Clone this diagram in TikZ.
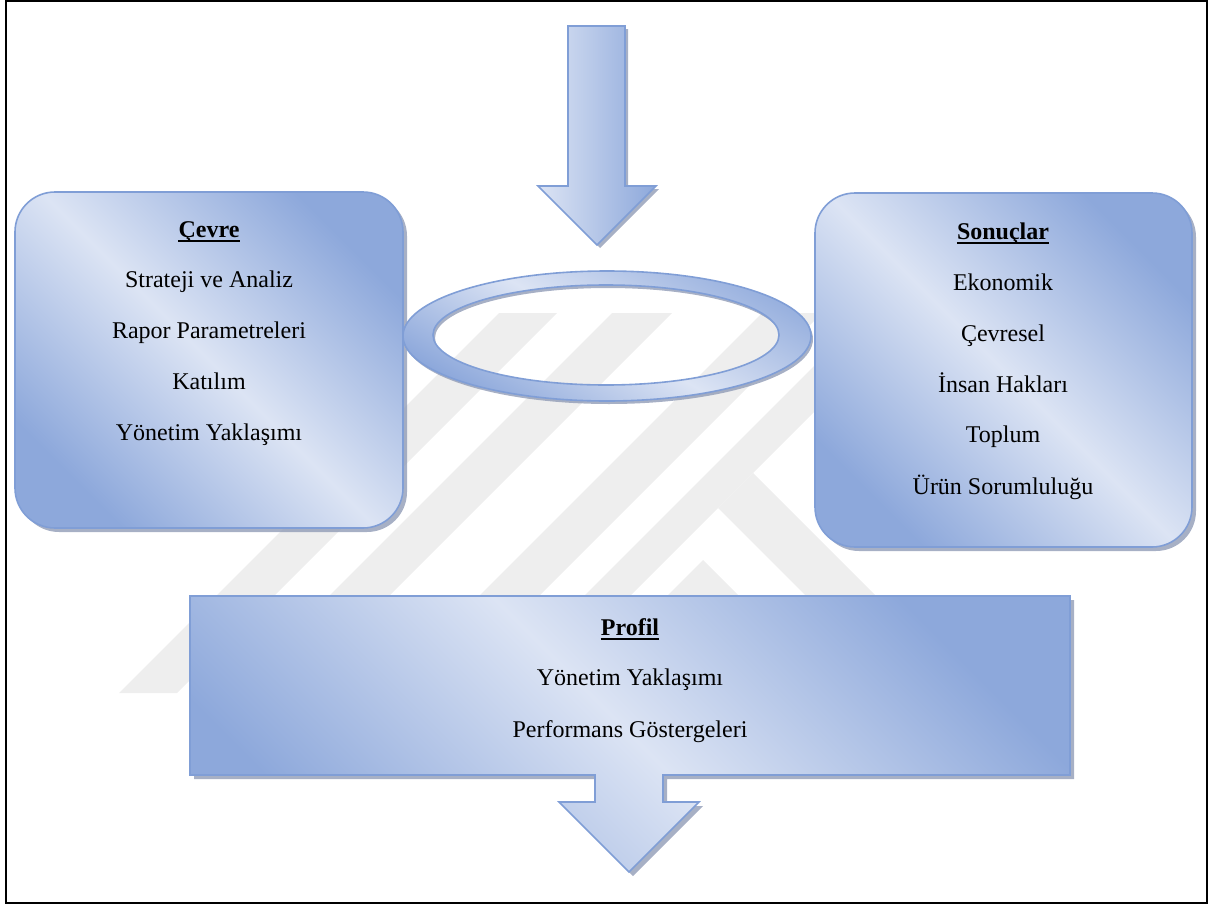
\documentclass[tikz,border=0pt]{standalone}
\usepackage{fontspec}
\setmainfont{Liberation Serif}
\definecolor{lite}{RGB}{220,228,244}
\definecolor{dark}{RGB}{141,168,219}
\definecolor{edge}{RGB}{128,158,214}
\definecolor{shad}{RGB}{138,150,178}
\definecolor{wm}{RGB}{238,238,238}
\tikzset{
  shapefill/.style={draw=edge, line width=1.6pt, top color=dark, bottom color=dark, middle color=lite, shading angle=-45},
  shd/.style={fill=shad, draw=none, opacity=.75},
  ttl/.style={font=\bfseries\fontsize{24}{24}\selectfont, anchor=base, inner sep=0pt},
  itm/.style={font=\fontsize{24}{24}\selectfont, anchor=base, inner sep=0pt},
  uline/.style={line width=1.6pt},
  wmark/.style={fill=wm, draw=none},
}
\begin{document}
\begin{tikzpicture}[x=1pt,y=-1pt]
\useasboundingbox (0,0) rectangle (1211,905);
% watermark
\fill[wmark] (499,313)--(557,313)--(177,693)--(119,693)--cycle;
\fill[wmark] (612,313)--(672,313)--(292,693)--(232,693)--cycle;
\fill[wmark] (762,313)--(822,313)--(442,693)--(382,693)--cycle;
\fill[wmark] (867,313)--(913,313)--(533,693)--(487,693)--cycle;
\fill[wmark] (703,560)--(836,693)--(570,693)--cycle;
\fill[wmark] (718,508)--(753,473)--(973,693)--(903,693)--cycle;
% frame
\draw[line width=2.3pt] (5.8,1) rectangle (1207,903);
% top arrow
\fill[shd] (571,29)--(628,29)--(628,189)--(659,189)--(600,248)--(541,189)--(571,189)--cycle;
\path[draw=edge, line width=1.6pt, left color=lite, right color=dark] (568,26)--(625,26)--(625,186)--(656,186)--(597,245)--(538,186)--(568,186)--cycle;
% left box
\fill[shd, rounded corners=40pt] (19,196) rectangle (407,532);
\path[shapefill, rounded corners=40pt] (15,192) rectangle (403,528);
% right box
\fill[shd, rounded corners=40pt] (819,197) rectangle (1196,551);
\path[shapefill, rounded corners=40pt] (815,193) rectangle (1192,547);
% ring
\fill[shd, even odd rule] (609,339) ellipse [x radius=204, y radius=65] (608,338) ellipse [x radius=173, y radius=50];
\path[shapefill, even odd rule, top color=dark!90, bottom color=dark, middle color=lite, shading angle=-30] (607,336) ellipse [x radius=204, y radius=65] (606,335) ellipse [x radius=173, y radius=50];
% profile box with arrow
\fill[shd] (194,600)--(1074,600)--(1074,779)--(667,779)--(667,806)--(703,806)--(633,876)--(563,806)--(599,806)--(599,779)--(194,779)--cycle;
\path[shapefill] (190,596)--(1070,596)--(1070,775)--(663,775)--(663,802)--(699,802)--(629,872)--(559,802)--(595,802)--(595,775)--(190,775)--cycle;
% texts left
\node[ttl] (t1) at (209,237) {Çevre};
\draw[uline] ([yshift=-4pt]t1.base west) -- ([yshift=-4pt]t1.base east);
\node[itm] (l1) at (209,287) {Strateji ve Analiz};
\node[itm] (l2) at (209,338) {Rapor Parametreleri};
\node[itm] (l3) at (209,389) {Katılım};
\node[itm] (l4) at (209,440) {Yönetim Yaklaşımı};
% texts right
\node[ttl] (t2) at (1003,239) {Sonuçlar};
\draw[uline] ([yshift=-4pt]t2.base west) -- ([yshift=-4pt]t2.base east);
\node[itm] (r1) at (1003,290) {Ekonomik};
\node[itm] (r2) at (1003,341) {Çevresel};
\node[itm] (r3) at (1003,392) {İnsan Hakları};
\node[itm] (r4) at (1003,442) {Toplum};
\node[itm] (r5) at (1003,494) {Ürün Sorumluluğu};
% profile texts
\node[ttl] (t3) at (630,635) {Profil};
\draw[uline] ([yshift=-4pt]t3.base west) -- ([yshift=-4pt]t3.base east);
\node[itm] (p1) at (630,685) {Yönetim Yaklaşımı};
\node[itm] (p2) at (630,737) {Performans Göstergeleri};
\end{tikzpicture}
\end{document}
